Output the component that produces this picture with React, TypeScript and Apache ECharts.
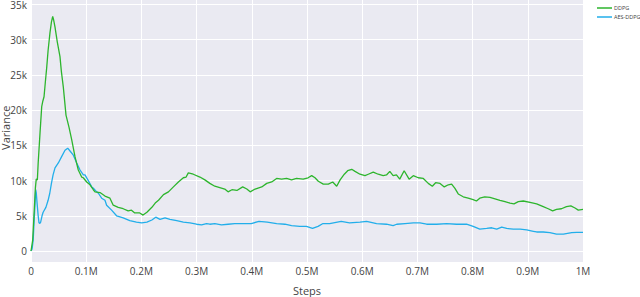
import React, { useEffect, useRef } from "react";
import * as echarts from "echarts";

// [steps (thousands), variance (thousands)]
const ddpg: number[][] = [
  [0,0],[3,1.5],[6,6],[8,9],[9.5,10.2],[11.5,10.1],[13,12.5],[16.3,16.7],[19.4,20.5],[21.5,21.3],[23.6,21.9],[26,24],[28.4,26],[31,28.5],[34.4,31],[37,32.5],[39.3,33.3],[41,32.8],[43.5,31.8],[46,30.5],[47.6,29.7],[52.5,27.6],[55,25.5],[58.5,23.3],[63.4,19.3],[68.8,17.6],[73.7,15.8],[79.7,13.4],[85.7,11.5],[91.8,10.5],[94.7,10.4],[100.9,9.8],[106.9,9.4],[112.9,8.7],[115.9,8.4],[125,8.3],[134,7.8],[143,7.5],[149,6.5],[158,6.2],[167,6],[176,5.7],[182,5.8],[188,5.4],[197,5.4],[203,5.1],[210,5.5],[219,6.2],[225,6.8],[231,7.2],[240,8],[249,8.4],[258,9.1],[267,9.8],[276,10.4],[281,10.5],[285,11.1],[294,10.9],[306,10.5],[315,10.1],[324,9.6],[333,9.2],[342,9],[351,8.8],[357,8.4],[364,8.7],[373,8.6],[383.5,9.1],[391,8.8],[397,8.4],[406,8.8],[418,9.1],[427,9.6],[436,9.8],[445,10.3],[454,10.2],[463,10.3],[472,10.1],[481,10.3],[493,10.2],[502,10.4],[508.5,10.7],[514.5,10.4],[520.5,9.9],[529.5,9.5],[538.6,9.5],[546.6,9.8],[553.8,9.2],[560,10.1],[567.6,10.9],[573.7,11.4],[581,11.6],[587,11.3],[596,10.9],[605,10.7],[611,10.9],[620,11.2],[629,10.9],[638,10.7],[644,10.8],[650,11.3],[656,10.7],[662,10.8],[668,10.2],[676,11.4],[685,10.2],[692.6,10.7],[701.6,10.4],[710.7,10.3],[719.7,9.6],[727,9.2],[733,9.7],[741,9.6],[748.7,9.1],[756,9.4],[762,9.5],[768,8.9],[774,8.1],[783,7.7],[792,7.5],[801,7.3],[807,7.1],[813,7.5],[822,7.7],[831.5,7.6],[840.6,7.4],[849.6,7.2],[858.7,7],[867.8,6.8],[875,6.7],[882.8,7],[891.8,7.1],[904,6.9],[916,6.7],[928,6.3],[937,6],[945,5.7],[952,5.9],[961,6],[970,6.3],[978,6.4],[985.5,6.1],[991.5,5.8],[1000,5.9]
];

const aesDdpg: number[][] = [
  [0,0],[2,0.3],[4,1.6],[5.5,4],[7,6.2],[8.5,8.7],[9.5,8.3],[11,6.8],[13,5],[14.5,4],[16,3.9],[17.5,4.1],[20,5],[22,5.5],[27,6.2],[31,7.2],[34,8.2],[37,9.6],[40,10.8],[43.5,11.8],[49.5,12.5],[55.5,13.4],[61.6,14.3],[66.5,14.6],[70.7,14.2],[76.7,13.6],[82.8,12.5],[88.8,11.5],[94.8,10.8],[97.8,10.8],[103.8,10],[110,9.1],[113,8.9],[119,8.4],[122,8.2],[128,7.5],[134,7.2],[137,6.5],[146,5.8],[155,5],[167,4.7],[179,4.3],[191,4.1],[200.5,4],[210,4.1],[219,4.4],[226,4.8],[233.7,4.5],[242.8,4.7],[251.8,4.5],[264,4.3],[276,4.1],[288,4],[300,3.8],[309,3.7],[318,3.9],[324,3.8],[333,3.9],[345,3.7],[357,3.8],[369,3.9],[387,3.9],[399,3.9],[413,4.2],[428,4.1],[445,3.9],[460,3.8],[472,3.6],[487,3.5],[499,3.5],[510,3.2],[520,3.5],[529,3.9],[541,3.9],[562,4.2],[577,4],[596,4.1],[608,4.2],[626,3.9],[644,3.8],[656,3.6],[662.5,3.8],[677.5,3.9],[692.6,4],[704.7,4],[716.8,3.8],[735,3.8],[753,3.9],[771,3.8],[789,3.8],[801,3.5],[813,3.1],[825.5,3.2],[834.6,3.3],[843.7,3.1],[852.7,3.4],[861.8,3.2],[873.7,3.1],[886,3.1],[898,3],[910,2.8],[916,2.7],[928,2.7],[940,2.6],[952,2.4],[964.5,2.4],[979.5,2.6],[988.6,2.65],[1000,2.65]
];

const seriesNames = ["DDPG", "AES-DDPG"];
const xTitle = "Steps";
const yTitle = "Variance";

const toRaw = (d: number[][]) => d.map(([s, v]) => [s * 1000, v * 1000]);

const FONT = "Open Sans";
const TXT = "#444";

export default function App() {
  const ref = useRef<HTMLDivElement>(null);
  useEffect(() => {
    if (!ref.current) return;
    const chart = echarts.init(ref.current, undefined, { renderer: "svg" });
    const xFmt = (v: number) => (v === 0 ? "0" : `${+(v / 1e6).toFixed(1)}M`);
    const yFmt = (v: number) => (v === 0 ? "0" : `${v / 1000}k`);
    chart.setOption({
      animation: false,
      textStyle: { fontFamily: FONT },
      grid: [
        {
          left: 31, right: 57, top: 0, bottom: 35, show: true, backgroundColor: "#EAEAF2",
          borderWidth: 0, containLabel: false, outerBoundsMode: "none",
        },
        {
          left: 31, right: 57, top: 4.5, bottom: 46, show: false,
          containLabel: false, outerBoundsMode: "none",
        },
      ],
      legend: {
        orient: "vertical",
        left: 597,
        top: 5,
        padding: 0,
        itemWidth: 15,
        itemHeight: 1.5,
        itemGap: 3,
        icon: "rect",
        textStyle: { fontSize: 5.5, color: TXT, fontFamily: FONT, padding: [0, 0, 0, -3] },
        data: seriesNames,
      },
      xAxis: [
        {
          type: "value", gridIndex: 0, min: 0, max: 1e6, interval: 1e5,
          axisLine: { show: false }, axisTick: { show: false },
          splitLine: { show: true, lineStyle: { color: "#fff", width: 1 } },
          axisLabel: { formatter: xFmt, color: TXT, fontSize: 10, margin: 4, fontFamily: FONT },
          name: xTitle, nameLocation: "middle", nameGap: 23, nameMoveOverlap: false,
          nameTextStyle: { color: TXT, fontSize: 11, fontFamily: FONT },
        },
        {
          type: "value", gridIndex: 1, min: 0, max: 1e6, interval: 1e5, show: false,
          splitLine: { show: false },
        },
      ],
      yAxis: [
        { type: "value", gridIndex: 0, show: false, splitLine: { show: false } },
        {
          type: "value", gridIndex: 1, min: 0, max: 35000, interval: 5000,
          axisLine: { show: false }, axisTick: { show: false },
          splitLine: { show: true, lineStyle: { color: "#fff", width: 1 } },
          axisLabel: { formatter: yFmt, color: TXT, fontSize: 10, margin: 4, fontFamily: FONT },
          name: yTitle, nameLocation: "middle", nameGap: 20, nameMoveOverlap: false,
          nameTextStyle: { color: TXT, fontSize: 11, fontFamily: FONT },
        },
      ],
      series: [
        {
          name: seriesNames[0], type: "line", xAxisIndex: 1, yAxisIndex: 1,
          data: toRaw(ddpg), showSymbol: false, symbol: "none",
          lineStyle: { color: "#2db52d", width: 1.3 }, itemStyle: { color: "#2db52d" },
          z: 3,
        },
        {
          name: seriesNames[1], type: "line", xAxisIndex: 1, yAxisIndex: 1,
          data: toRaw(aesDdpg), showSymbol: false, symbol: "none",
          lineStyle: { color: "#22aeea", width: 1.3 }, itemStyle: { color: "#22aeea" },
          z: 2,
        },
      ],
    });
    return () => chart.dispose();
  }, []);
  return <div ref={ref} style={{ width: 640, height: 297, position: "absolute", left: 0, top: 0 }} />;
}
